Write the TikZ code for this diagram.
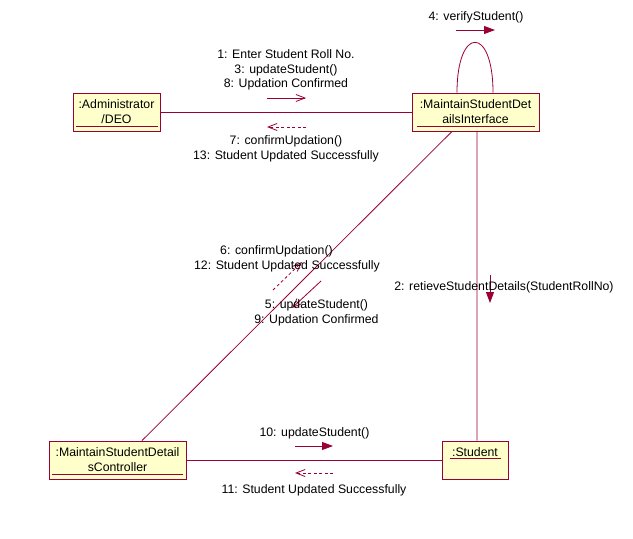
\documentclass[tikz,border=0pt]{standalone}
\usepackage{fontspec}
\setmainfont{Liberation Sans}
\usetikzlibrary{arrows.meta}
\definecolor{rosered}{HTML}{990033}
\definecolor{roseyellow}{HTML}{FFFFCC}
\tikzset{
        obj/.style={rectangle,draw=rosered,fill=roseyellow,line width=.9bp,
                align=center,inner sep=0pt,minimum height=38bp,
                font=\fontsize{12.3bp}{15bp}\selectfont},
        lnk/.style={draw=rosered,line width=.8bp},
        lbl/.style={align=center,inner sep=0pt,font=\fontsize{12.3bp}{14.7bp}\selectfont},
        msg/.style={draw=rosered,line width=.8bp,-{Straight Barb[length=9bp,width=7bp]}},
        ret/.style={msg,dash pattern=on 3bp off 2.5bp},
        call/.style={draw=rosered,line width=.8bp,-{Triangle[length=11bp,width=8bp]}}
    }

\begin{document}
\begin{tikzpicture}[x=1bp,y=-1bp]

\useasboundingbox (0,0) rectangle (633,539);

\draw (116.5,112) node(ADM)[obj,minimum width=87bp]{:Administrator\\/DEO};
\draw (475.5,112) node(INT)[obj,minimum width=127bp]{:MaintainStudentDet\\ailsInterface};
\draw (117.5,460) node(CTR)[obj,minimum width=137bp]{:MaintainStudentDetail\\sController};
\draw (475,460) node(STU)[obj,minimum width=66bp]{:Student\\\mbox{}};

\draw[lnk] ([xshift=3bp,yshift=5bp]ADM.south west) -- ([xshift=-2bp,yshift=5bp]ADM.south east);
\draw[lnk] ([xshift=5bp,yshift=5bp]INT.south west) -- ([xshift=-4bp,yshift=5bp]INT.south east);
\draw[lnk] ([xshift=3bp,yshift=5bp]CTR.south west) -- ([xshift=-3bp,yshift=5bp]CTR.south east);
\draw[lnk] ([xshift=8bp,yshift=21bp]STU.south west) -- ([xshift=-7bp,yshift=21bp]STU.south east);

\draw[lnk] (ADM) -- (INT);
\draw[lnk] (CTR) -- (STU);
\draw[lnk] ([xshift=1.5bp]INT.south) -- ([xshift=2bp]STU.north);
\draw[lnk] ([xshift=-23.5bp]INT.south) -- ([xshift=24.5bp]CTR.north);
\draw[lnk] ([xshift=-18.5bp]INT.north) .. controls +(0,-67) and +(0,-67) .. ([xshift=17.5bp]INT.north);

% messages
\coordinate (M1a) at (267,98);
\coordinate (M1b) at (306,98);
\coordinate (M7a) at (306,127);
\coordinate (M7b) at (267,127);
\coordinate (M4a) at (456,30);
\coordinate (M4b) at (495,30);
\coordinate (M2a) at (490,275);
\coordinate (M2b) at (490,303);
\coordinate (M6a) at (273,290);
\coordinate (M6b) at (302,262);
\coordinate (M5a) at (321,281);
\coordinate (M5b) at (292,308);
\coordinate (M10a) at (295,446);
\coordinate (M10b) at (333,446);
\coordinate (M11a) at (333,473);
\coordinate (M11b) at (295,473);

\draw[msg] (M1a) -- (M1b);
\draw[ret] (M7a) -- (M7b);
\draw[call] (M4a) -- (M4b);
\draw[call] (M2a) -- (M2b);
\draw[ret] (M6a) -- (M6b);
\draw[msg] (M5a) -- (M5b);
\draw[call] (M10a) -- (M10b);
\draw[ret] (M11a) -- (M11b);

\draw (286,70) node(L1)[lbl]{1: Enter Student Roll No.\\3: updateStudent()\\8: Updation Confirmed};
\draw (286,149) node(L7)[lbl]{7: confirmUpdation()\\13: Student Updated Successfully};
\draw (476,17) node(L4)[lbl]{4: verifyStudent()};
\draw (504,287) node(L2)[lbl]{2: retieveStudentDetails(StudentRollNo)};
\draw (287,259) node(L6)[lbl]{6: confirmUpdation()\hspace*{21bp}\\12: Student Updated Successfully};
\draw (316.5,313) node(L5)[lbl]{5: updateStudent()\\9: Updation Confirmed};
\draw (314.5,433) node(L10)[lbl]{10: updateStudent()};
\draw (314,490) node(L11)[lbl]{11: Student Updated Successfully};

\end{tikzpicture}
\end{document}
